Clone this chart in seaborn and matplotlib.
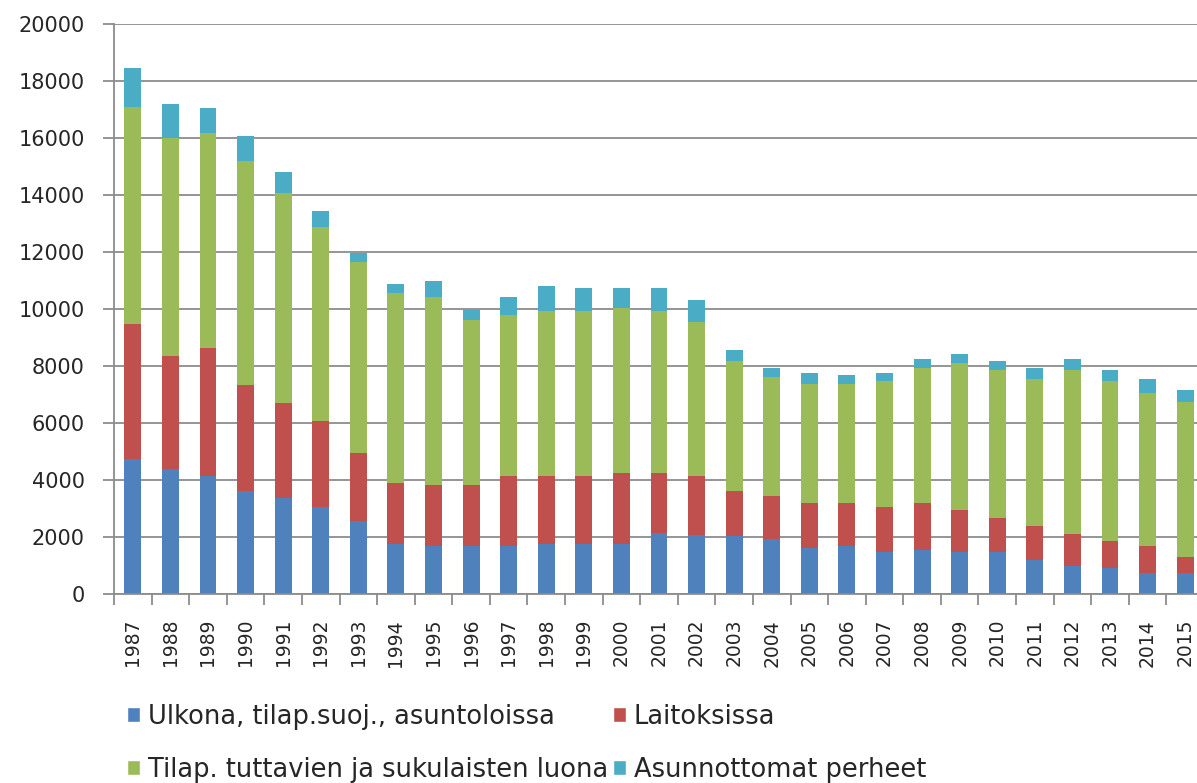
import numpy as np
import pandas as pd
import seaborn as sns
import matplotlib.pyplot as plt
from matplotlib.patches import Patch
from matplotlib.ticker import FixedLocator

years = [str(y) for y in range(1987, 2016)]
ulkona = [4720, 4400, 4150, 3600, 3370, 3040, 2570, 1750, 1680, 1680, 1680, 1750, 1750, 1750, 2150,
          2080, 2020, 1940, 1620, 1690, 1460, 1540, 1460, 1460, 1210, 980, 900, 750, 750]
laitoksissa = [4760, 3960, 4470, 3740, 3330, 3020, 2390, 2160, 2150, 2150, 2460, 2390, 2390, 2490, 2090,
               2060, 1580, 1500, 1570, 1500, 1590, 1660, 1500, 1190, 1190, 1120, 960, 950, 550]
tuttavat = [7600, 7640, 7550, 7860, 7380, 6830, 6680, 6650, 6590, 5790, 5650, 5800, 5800, 5790, 5700,
            5400, 4570, 4190, 4190, 4190, 4420, 4730, 5130, 5200, 5130, 5750, 5610, 5360, 5450]
perheet = [1360, 1200, 870, 880, 720, 550, 340, 320, 560, 350, 620, 870, 790, 700, 790,
           790, 400, 300, 390, 320, 300, 320, 320, 320, 400, 400, 380, 480, 400]

labels = ["Ulkona, tilap.suoj., asuntoloissa", "Laitoksissa",
          "Tilap. tuttavien ja sukulaisten luona", "Asunnottomat perheet"]
colors = ["#4F81BD", "#C0504D", "#9BBB59", "#4BACC6"]

df = pd.DataFrame({"vuosi": years, "s0": ulkona, "s1": laitoksissa, "s2": tuttavat, "s3": perheet})
cum = df[["s0", "s1", "s2", "s3"]].cumsum(axis=1)

sns.set_style("white")
plt.rcParams['font.family'] = ['DejaVu Sans']

fig = plt.figure(figsize=(11.97, 7.83), dpi=100)
ax = fig.add_axes([114 / 1197, 189 / 783, 1090 / 1197, 570 / 783])

# stacked bars: draw cumulative totals from the top down
for i in [3, 2, 1, 0]:
    sns.barplot(x=df["vuosi"], y=cum[f"s{i}"], color=colors[i], width=0.45,
                saturation=1, linewidth=0, ax=ax)

ax.set_xlim(-0.5, 28.5)
ax.set_ylim(0, 20000)
ax.set_yticks(range(0, 20001, 2000))
ax.yaxis.grid(True, color="#8c8c8c", linewidth=1.3)
ax.xaxis.grid(False)
ax.set_axisbelow(True)
ax.set_xlabel("")
ax.set_ylabel("")

for s in ["top", "right"]:
    ax.spines[s].set_visible(False)
for s in ["left", "bottom"]:
    ax.spines[s].set_color("#8c8c8c")
    ax.spines[s].set_linewidth(1.3)

ax.tick_params(axis="y", direction="out", length=8, width=1.3, color="#8c8c8c",
               pad=13, labelsize=15, left=True)
# major x ticks at the category boundaries, labels on minor ticks at centres
ax.xaxis.set_major_locator(FixedLocator(np.arange(-0.5, 29, 1)))
ax.xaxis.set_major_formatter(plt.NullFormatter())
ax.xaxis.set_minor_locator(FixedLocator(np.arange(0, 29)))
ax.set_xticklabels(years, minor=True, rotation=90)
ax.tick_params(axis="x", which="major", direction="out", length=8, width=1.3,
               color="#8c8c8c", bottom=True)
ax.tick_params(axis="x", which="minor", length=0, pad=18, labelsize=13.5, bottom=True)

handles = [Patch(facecolor=colors[0]), Patch(facecolor=colors[2]),
           Patch(facecolor=colors[1]), Patch(facecolor=colors[3])]
hl = [labels[0], labels[2], labels[1], labels[3]]
fig.legend(handles, hl, ncol=2, loc="upper left",
           bbox_to_anchor=(127 / 1197, 1 - 704 / 783), bbox_transform=fig.transFigure,
           frameon=False, borderpad=0, borderaxespad=0,
           handlelength=0.52, handleheight=0.52, handletextpad=0.28,
           columnspacing=0.2, labelspacing=1.05,
           prop={"family": ["DejaVu Sans"], "size": 18.5})

fig.savefig("out.png", dpi=100)
